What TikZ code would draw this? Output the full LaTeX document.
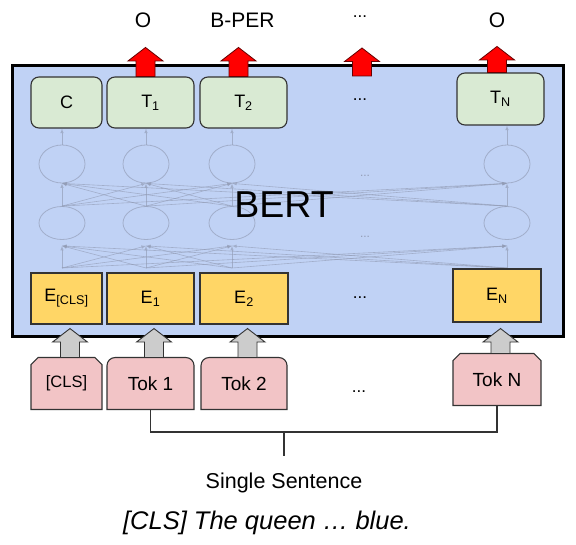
\documentclass[tikz,border=0pt]{standalone}
\usepackage{fontspec}
\setmainfont{Liberation Sans}
\usetikzlibrary{positioning,calc,shapes.geometric,backgrounds,arrows}

\definecolor{bertblue}{RGB}{192,210,245}
\definecolor{outgreen}{RGB}{217,234,211}
\definecolor{embyellow}{RGB}{255,214,102}
\definecolor{tokpink}{RGB}{242,196,198}
\definecolor{boxline}{RGB}{51,51,51}
\definecolor{faintline}{RGB}{145,155,180}
\definecolor{arrgray}{RGB}{204,204,204}

\begin{document}
\begin{tikzpicture}[x=1pt,y=1pt,
	bertbox/.style={
		draw=black,
		line width=3pt,
		fill=bertblue
	},
	outnode/.style={
		draw=boxline, line width=1.1pt,
		fill=outgreen,
		rectangle, rounded corners=8pt,
		minimum height=51pt,
		inner sep=0pt,
		font=\fontsize{18}{20}\selectfont
	},
	embnode/.style={
		draw=boxline, line width=1.1pt,
		fill=embyellow,
		minimum height=51pt,
		inner sep=0pt,
		font=\fontsize{18}{20}\selectfont
	},
	toknode/.style={
		minimum height=52pt,
		inner sep=0pt, outer sep=0pt,
		font=\fontsize{19}{21}\selectfont
	},
	tokline/.style={
		draw=boxline, line width=1.1pt,
		fill=tokpink
	},
	neuron/.style={
		ellipse, draw=faintline, draw opacity=0.65,
		line width=0.8pt,
		minimum width=46pt,
		inner sep=0pt
	},
	faint/.style={
		draw=faintline, opacity=0.65,
		line width=0.6pt,
		-latex
	},
	outlbl/.style={
		anchor=base,
		font=\fontsize{21}{23}\selectfont
	},
	dots/.style={
		font=\fontsize{17}{20}\selectfont
	},
	redarrow/.style={
		fill=red, draw=black!60!red, line width=0.8pt
	},
	grayarrow/.style={
		fill=arrgray, draw=boxline, line width=0.9pt
	},
	pics/blockup/.style={
		code={
			\draw[pic actions] (-9.5,0) -- (-9.5,{#1-13.5}) -- (-17.5,{#1-13.5})
			-- (0,#1) -- (17.5,{#1-13.5}) -- (9.5,{#1-13.5}) -- (9.5,0) -- cycle;
		}
	}
	]
	\useasboundingbox (0,0) rectangle (576,544);
	
	% the model
	\node[bertbox, minimum width=551pt, minimum height=271pt] (bert) at (287.5,342.5) {};
	
	% faint network inside
	\foreach \x [count=\i] in {62,146,232,507} {
		\node[neuron, minimum height=33pt] (lo\i) at (\x,321) {};
		\node[neuron, minimum height=38pt] (up\i) at (\x,380) {};
		\coordinate (in\i) at (\x,276);
	}
	\foreach \i in {1,...,4}
	\foreach \j in {1,...,4} {
		\draw[faint] (in\i) -- ([yshift=-6pt]lo\j.south);
		\draw[faint] (lo\i.north) -- (up\j.south);
	}
	\node[dots, text=faintline, font=\fontsize{12}{14}\selectfont] (fdots1) at (365,368) {...};
	\node[dots, text=faintline, font=\fontsize{12}{14}\selectfont] (fdots2) at (365,307) {...};
	
	% outputs
	\node[outnode, minimum width=71pt] (C) at (66.5,441.5) {C};
	\node[outnode, minimum width=87pt] (T1) at (150.5,441.5) {T\textsubscript{1}};
	\node[outnode, minimum width=87pt] (T2) at (243.5,441.5) {T\textsubscript{2}};
	\node[dots] (Tdots) at (360,444) {...};
	\node[outnode, minimum width=87pt, minimum height=52pt] (TN) at (500.5,445) {T\textsubscript{N}};
	
	\foreach \i/\t in {1/C,2/T1,3/T2,4/TN}
	\draw[faint] (up\i.north) -- (up\i.north |- \t.south);
	
	% embeddings
	\node[embnode, minimum width=71pt] (Ecls) at (66.5,245.5) {E\textsubscript{[CLS]}};
	\node[embnode, minimum width=87pt] (E1) at (150.5,245.5) {E\textsubscript{1}};
	\node[embnode, minimum width=88pt] (E2) at (244,245.5) {E\textsubscript{2}};
	\node[dots] (Edots) at (360,246) {...};
	\node[embnode, minimum width=88pt, minimum height=53pt] (EN) at (497,248.5) {E\textsubscript{N}};
	
	\node[anchor=base, font=\fontsize{37.5}{40}\selectfont] (bertlbl) at (284,326) {BERT};
	
	% tokens
	\node[toknode, minimum width=71pt, below=33pt of Ecls, font=\fontsize{16.5}{18}\selectfont] (tcls) {[CLS]};
	\node[toknode, minimum width=87pt, below=33pt of E1] (t1) {Tok 1};
	\node[toknode, minimum width=86pt, below=33pt of E2] (t2) {Tok 2};
	\node[dots] (tdots) at (359,152) {...};
	\node[toknode, minimum width=88pt, below=31pt of EN] (tN) {Tok N};
	
	\begin{scope}[on background layer]
	\foreach \t in {t1,t2}
	\draw[tokline] (\t.south west) -- ([yshift=-8pt]\t.north west)
	arc[start angle=180, end angle=90, radius=8pt]
	-- ([xshift=-8pt]\t.north east)
	arc[start angle=90, end angle=0, radius=8pt]
	-- (\t.south east) -- cycle;
	\foreach \t in {tcls,tN}
	\draw[tokline] (\t.south west) -- ([yshift=-7pt]\t.north west)
	-- ([xshift=7pt]\t.north west) -- ([xshift=-7pt]\t.north east)
	-- ([yshift=-7pt]\t.north east) -- (\t.south east) -- cycle;
	\end{scope}
	
	% block arrows
	\pic[redarrow] at ($(T1.north)+(-5,0)$) {blockup=29};
	\pic[redarrow] at ($(T2.north)+(-5,0)$) {blockup=29};
	\pic[redarrow] at (362,468) {blockup=28};
	\pic[redarrow] at ($(TN.north)+(-3.5,0)$) {blockup=26};
	
	\pic[grayarrow] at ($(tcls.north)+(3.5,0)$) {blockup=29};
	\pic[grayarrow] at ($(t1.north)+(3.5,0)$) {blockup=29};
	\pic[grayarrow] at ($(t2.north)+(3.5,0)$) {blockup=29};
	\pic[grayarrow] at ($(tN.north)+(3.5,0)$) {blockup=25};
	
	% output labels
	\node[outlbl] (o1) at (143,516) {O};
	\node[outlbl] (o2) at (242.5,516) {B-PER};
	\node[dots] (odots) at (360,527) {...};
	\node[outlbl] (oN) at (497,516) {O};
	
	% sentence
	\coordinate (join) at (284,112);
	\coordinate (stub) at (284,88);
	\draw[boxline, line width=1.1pt] (t1.south) |- (join) -| (tN.south);
	\draw[boxline, line width=1.1pt] (join) -- (stub);
	\node[anchor=base, font=\fontsize{21.5}{24}\selectfont] (sent) at (284,56) {Single Sentence};
	\node[anchor=base, font=\fontsize{25.5}{28}\selectfont\itshape] (example) at (267,15) {[CLS] The queen … blue.};
\end{tikzpicture}
\end{document}
